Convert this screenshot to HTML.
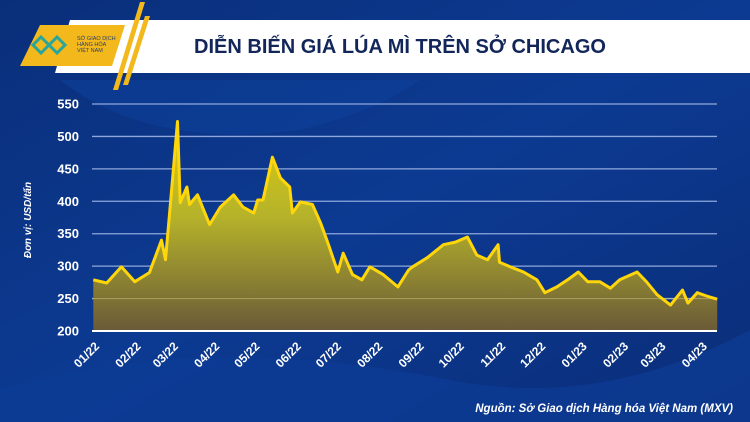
<!DOCTYPE html>
<html><head><meta charset="utf-8"><style>
html,body{margin:0;padding:0;width:750px;height:422px;overflow:hidden;background:#0b3486;font-family:"Liberation Sans",sans-serif}
</style></head><body>
<svg width="750" height="422" viewBox="0 0 750 422" xmlns="http://www.w3.org/2000/svg">
<defs>
<linearGradient id="bg" x1="0" y1="0" x2="1" y2="1"><stop offset="0" stop-color="#0a2f7a"/><stop offset="0.5" stop-color="#0c3a92"/><stop offset="1" stop-color="#0a2d78"/></linearGradient>
<linearGradient id="fill" x1="0" y1="0" x2="0" y2="1"><stop offset="0" stop-color="#d8cc10"/><stop offset="0.45" stop-color="#b6b32a"/><stop offset="1" stop-color="#6a5a38"/></linearGradient>
</defs>
<rect width="750" height="422" fill="url(#bg)"/>
<path d="M60 80 Q150 150 300 130 Q380 110 420 80 L60 80Z" fill="#0e3f9a" opacity="0.6"/>
<path d="M0 390 Q200 330 450 380 Q600 410 750 330 L750 422 L0 422Z" fill="#0d3c95" opacity="0.7"/>
<g>
<polygon points="70,20 750,20 750,73 55,73" fill="#ffffff"/>
<polygon points="40,25 125,25 112,66 20,66" fill="#f2b81c"/>
<polygon points="140,2 145,2 118,90 113,90" fill="#f2b81c"/>
<polygon points="145,16 150,16 128,85 123,85" fill="#f2b81c"/>
<text x="77" y="40" font-size="5.5" fill="#2a3f6a">SỞ GIAO DỊCH</text>
<text x="77" y="46" font-size="5.5" fill="#2a3f6a">HÀNG HÓA</text>
<text x="77" y="52" font-size="5.5" fill="#2a3f6a">VIỆT NAM</text>
<path d="M33 45 l8 -8 8 8 8 -8 8 8 -8 8 -8 -8 -8 8z" fill="none" stroke="#2aa59a" stroke-width="3"/>
<text x="400" y="53" font-size="20" font-weight="bold" fill="#13265a" text-anchor="middle">DIỄN BIẾN GIÁ LÚA MÌ TRÊN SỞ CHICAGO</text>
</g>
<g id="grid"></g>
<g id="yl"></g>
<g id="series"></g>
<g id="xl"></g>
<text transform="translate(31,220) rotate(-90)" text-anchor="middle" font-size="10" font-style="italic" font-weight="bold" fill="#fff">Đơn vị: USD/tấn</text>
<text x="733" y="412" text-anchor="end" font-size="11.5" font-style="italic" font-weight="bold" fill="#fff">Nguồn: Sở Giao dịch Hàng hóa Việt Nam (MXV)</text>
</svg>
<script>
const days=[1,11,22,32,43,52,55,58,64,66,71,73,79,88,96,106,113,121,124,128,135,141,148,150,156,165,171,177,184,188,195,202,208,218,229,237,240,251,263,272,281,288,296,304,305,313,323,333,339,348,356,364,371,380,388,395,408,415,423,433,442,446,453,460,468];
const prices=[279,274,299,276,290,340,310,380,523,398,422,395,410,364,391,410,391,382,402,402,468,436,422,382,399,395,367,333,291,320,287,279,299,287,268,294,299,313,333,337,345,317,310,333,306,299,291,279,259,268,279,291,276,276,266,279,291,276,256,240,263,243,259,254,249];
const yTicks=[200,250,300,350,400,450,500,550];
const monthDays=[0,31,59,90,120,151,181,212,243,273,304,334,365,396,424,455];
const monthLabels=["01/22","02/22","03/22","04/22","05/22","06/22","07/22","08/22","09/22","10/22","11/22","12/22","01/23","02/23","03/23","04/23"];
const NS="http://www.w3.org/2000/svg";
const X0=92,X1=717,Y0=331,Y1=104;
const xs=d=>X0+d*1.336;
const ys=v=>Y0-(v-200)*(Y0-Y1)/350;
const mk=(t,a,p)=>{const e=document.createElementNS(NS,t);for(const k in a)e.setAttribute(k,a[k]);p.appendChild(e);return e;};
const g=document.getElementById('grid'),yl=document.getElementById('yl'),s=document.getElementById('series'),xl=document.getElementById('xl');
yTicks.forEach(v=>{
 if(v>200){const l=mk('line',{x1:X0,x2:X1,y1:ys(v),y2:ys(v),stroke:'#8fa8dc','stroke-width':1.3},g);
 
 }
 const t=mk('text',{x:79,y:ys(v)+4.5,'text-anchor':'end','font-size':13,'font-weight':'bold',fill:'#fff'},yl);
 t.textContent=v;
 
 
});
let pts=days.map((d,i)=>xs(d).toFixed(1)+','+ys(prices[i]).toFixed(1));
const area=mk('path',{d:'M'+xs(days[0])+','+Y0+' L'+pts.join(' L')+' L'+xs(days[days.length-1])+','+Y0+'Z',fill:'url(#fill)'},s);


const gl=mk('line',{x1:X0,x2:X1,y1:ys(250),y2:ys(250),stroke:'#c9c07a','stroke-width':1,opacity:0.6},s);


const line=mk('polyline',{points:pts.join(' '),fill:'none',stroke:'#ffd60a','stroke-width':3,'stroke-linejoin':'round'},s);


const ax=mk('line',{x1:X0,x2:X1,y1:Y0,y2:Y0,stroke:'#fff','stroke-width':2},s);


monthDays.forEach((d,i)=>{
 const x=xs(d)+8,y=347;
 const t=mk('text',{x:x,y:y,'text-anchor':'end','font-size':12,'font-weight':'bold',fill:'#fff',transform:`rotate(-45 ${x} ${y})`},xl);
 t.textContent=monthLabels[i];
 
 
});
</script>
</body></html>
